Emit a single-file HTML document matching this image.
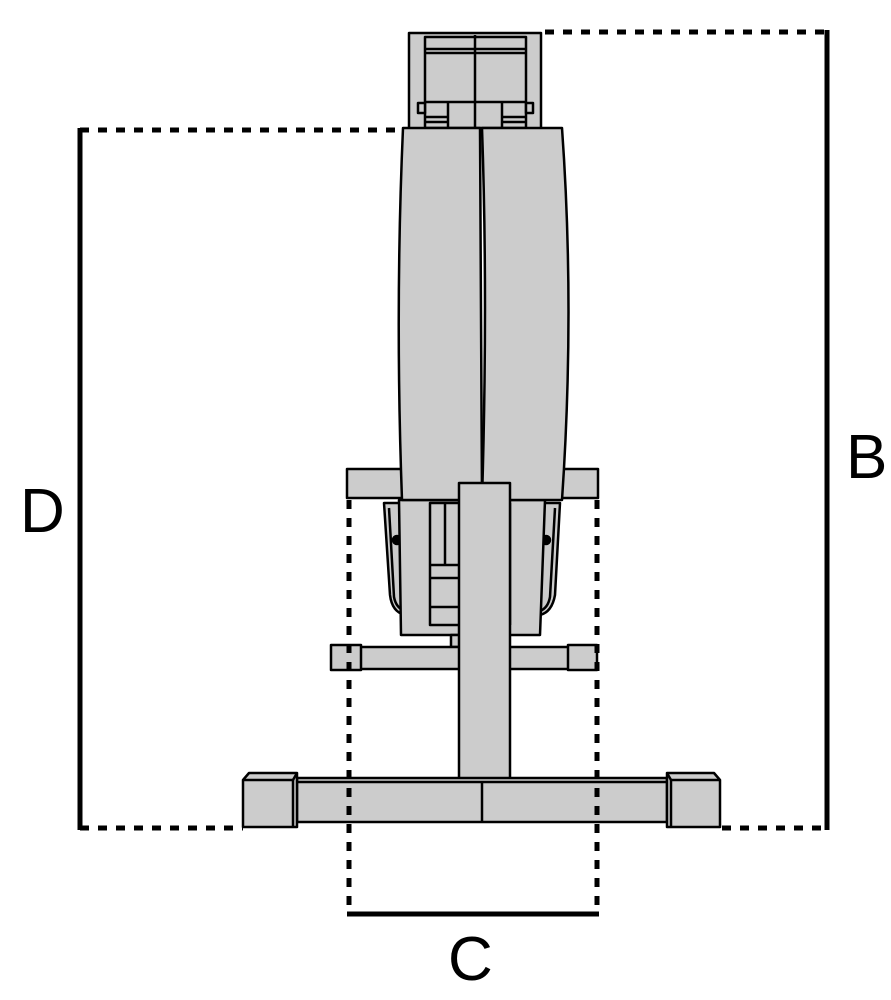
<!DOCTYPE html>
<html><head><meta charset="utf-8"><style>
html,body{margin:0;padding:0;background:#fff;width:891px;height:1000px;overflow:hidden}
svg{display:block}
text{font-family:"Liberation Sans",sans-serif;fill:#000}
</style></head><body>
<svg width="891" height="1000" viewBox="0 0 891 1000" xmlns="http://www.w3.org/2000/svg">
<g stroke="#000" stroke-width="2.5" fill="#cccccc" stroke-linejoin="round">
<!-- head -->
<rect x="409" y="33" width="132" height="97"/>
<rect x="425" y="37" width="101" height="91"/>
<line x1="425" y1="49" x2="526" y2="49"/>
<line x1="425" y1="53" x2="526" y2="53"/>
<line x1="475" y1="35" x2="475" y2="130"/>
<line x1="425" y1="102" x2="526" y2="102"/>
<rect x="418" y="103" width="7" height="10"/>
<rect x="526" y="103" width="7" height="10"/>
<line x1="448" y1="102" x2="448" y2="128"/>
<line x1="502" y1="102" x2="502" y2="128"/>
<line x1="425" y1="117" x2="448" y2="117"/>
<line x1="425" y1="122" x2="448" y2="122"/>
<line x1="502" y1="117" x2="526" y2="117"/>
<line x1="502" y1="122" x2="526" y2="122"/>
<!-- shelf -->
<rect x="347" y="469" width="251" height="29"/>
<!-- bracket -->
<path d="M384 503 L560 503 L555 595 Q552 612 540 615 L405 615 Q392 612 390 595 Z"/>
<path d="M389 508 L394 597 Q396 608 405 611" fill="none"/>
<path d="M555 508 L550 597 Q548 608 540 611" fill="none"/>
<circle cx="397" cy="540" r="4" fill="#000"/>
<circle cx="546" cy="540" r="4" fill="#000"/>
<!-- lower housing -->
<path d="M399 500 L545 500 L540 635 L401 635 Z"/>
<rect x="430" y="503" width="30" height="122"/>
<line x1="445" y1="503" x2="445" y2="565"/>
<line x1="430" y1="565" x2="460" y2="565"/>
<line x1="430" y1="578" x2="460" y2="578"/>
<line x1="430" y1="607" x2="460" y2="607"/>
<line x1="510" y1="503" x2="510" y2="625"/>
<!-- flywheel -->
<path d="M403 128 L480 128 L482 500 L402 500 Q395 310 403 128 Z"/>
<path d="M482 128 L562 128 Q575 310 562 500 L482 500 Q488 300 482 128 Z"/>
<!-- small stem -->
<rect x="451" y="635" width="10" height="12"/>
<!-- cross bar -->
<rect x="355" y="647" width="220" height="22"/>
<rect x="331" y="645" width="30" height="25"/>
<rect x="568" y="645" width="29" height="25"/>
<!-- post -->
<rect x="459" y="483" width="51" height="297"/>
<!-- base -->
<path d="M297 778 L667 778 L667 822 L297 822 Z"/>
<line x1="297" y1="782" x2="667" y2="782"/>
<line x1="482" y1="782" x2="482" y2="822"/>
<path d="M243 780 L249 773 L297 773 L297 827 L243 827 Z"/>
<line x1="243" y1="780" x2="293" y2="780"/>
<line x1="293" y1="780" x2="297" y2="773"/>
<line x1="293" y1="780" x2="293" y2="827"/>
<path d="M667 773 L714 773 L720 780 L720 827 L667 827 Z"/>
<line x1="671" y1="780" x2="720" y2="780"/>
<line x1="667" y1="773" x2="671" y2="780"/>
<line x1="671" y1="780" x2="671" y2="827"/>
</g>
<!-- dimension lines -->
<g stroke="#000" stroke-width="5" fill="none">
<line x1="545" y1="32" x2="827" y2="32" stroke-dasharray="9 9"/>
<line x1="827" y1="30" x2="827" y2="830"/>
<line x1="722" y1="828" x2="827" y2="828" stroke-dasharray="9 9"/>
<line x1="80" y1="130" x2="402" y2="130" stroke-dasharray="9 9"/>
<line x1="80" y1="128" x2="80" y2="830"/>
<line x1="80" y1="828" x2="243" y2="828" stroke-dasharray="9 9"/>
<line x1="349" y1="500" x2="349" y2="914" stroke-dasharray="9 9"/>
<line x1="597" y1="500" x2="597" y2="914" stroke-dasharray="9 9"/>
<line x1="347" y1="914" x2="599" y2="914"/>
</g>
<text x="20" y="532" font-size="62">D</text>
<text x="846" y="478" font-size="62">B</text>
<text x="448" y="980" font-size="62">C</text>
</svg>
</body></html>
